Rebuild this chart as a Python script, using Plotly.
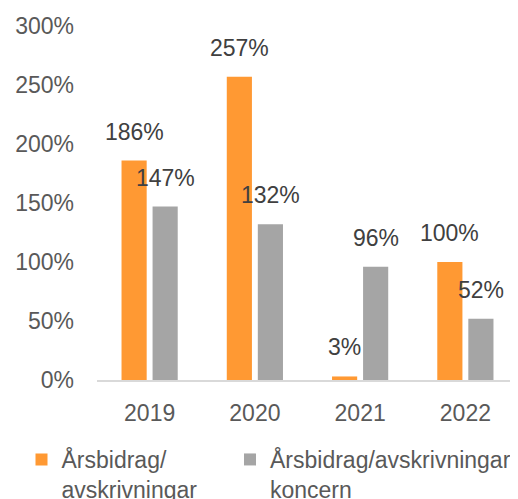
import plotly.graph_objects as go

years = ["2019", "2020", "2021", "2022"]
arsbidrag = [186, 257, 3, 100]
koncern = [147, 132, 96, 52]
series_names = ["Årsbidrag/<br>avskrivningar", "Årsbidrag/avskrivningar<br>koncern"]
colors = ["#FF9933", "#A5A5A5"]
legend_ids = ["legend", "legend2"]

FONT = "Liberation Sans, Arial, sans-serif"
SIZE = 23

fig = go.Figure()
for name, vals, col, lg in zip(series_names, [arsbidrag, koncern], colors, legend_ids):
    fig.add_trace(go.Bar(x=years, y=vals, name=name, marker_color=col,
                         marker_line_width=0, legend=lg))

annotations = []
for vals, shift in [(arsbidrag, -15.5), (koncern, 15.5)]:
    for i, v in enumerate(vals):
        annotations.append(dict(x=i, y=v, xref="x", yref="y", text=f"{v}%",
                                showarrow=False, xshift=shift, yshift=29,
                                yanchor="middle",
                                font=dict(family=FONT, size=SIZE, color="#404040")))

W, H = 510, 491
legend_font = dict(family=FONT, size=SIZE, color="#595959")
fig.update_layout(
    width=W, height=H,
    margin=dict(l=89, r=0, t=18, b=119, autoexpand=False),
    paper_bgcolor="white", plot_bgcolor="white",
    barmode="group", bargap=0.41, bargroupgap=0.19,
    font=dict(family=FONT, size=SIZE, color="#595959"),
    annotations=annotations,
    showlegend=True,
    legend=dict(xref="container", yref="container", x=13.5 / W, y=1 - 430 / H,
                xanchor="left", yanchor="top", valign="top", font=legend_font,
                bgcolor="rgba(0,0,0,0)"),
    legend2=dict(xref="container", yref="container", x=222 / W, y=1 - 430 / H,
                 xanchor="left", yanchor="top", valign="top", font=legend_font,
                 bgcolor="rgba(0,0,0,0)"),
)
fig.update_yaxes(range=[0, 300], dtick=50, ticksuffix="%", showgrid=False,
                 zeroline=False, showline=False, ticks="", ticklabelstandoff=22,
                 tickfont=dict(family=FONT, size=SIZE, color="#595959"))
fig.update_xaxes(type="category", range=[-0.5, len(years) - 0.5],
                 showline=True, linecolor="#D9D9D9", linewidth=1.5,
                 showgrid=False, zeroline=False, ticks="", ticklabelstandoff=12,
                 tickfont=dict(family=FONT, size=SIZE, color="#595959"))

fig.write_html("out.html")
